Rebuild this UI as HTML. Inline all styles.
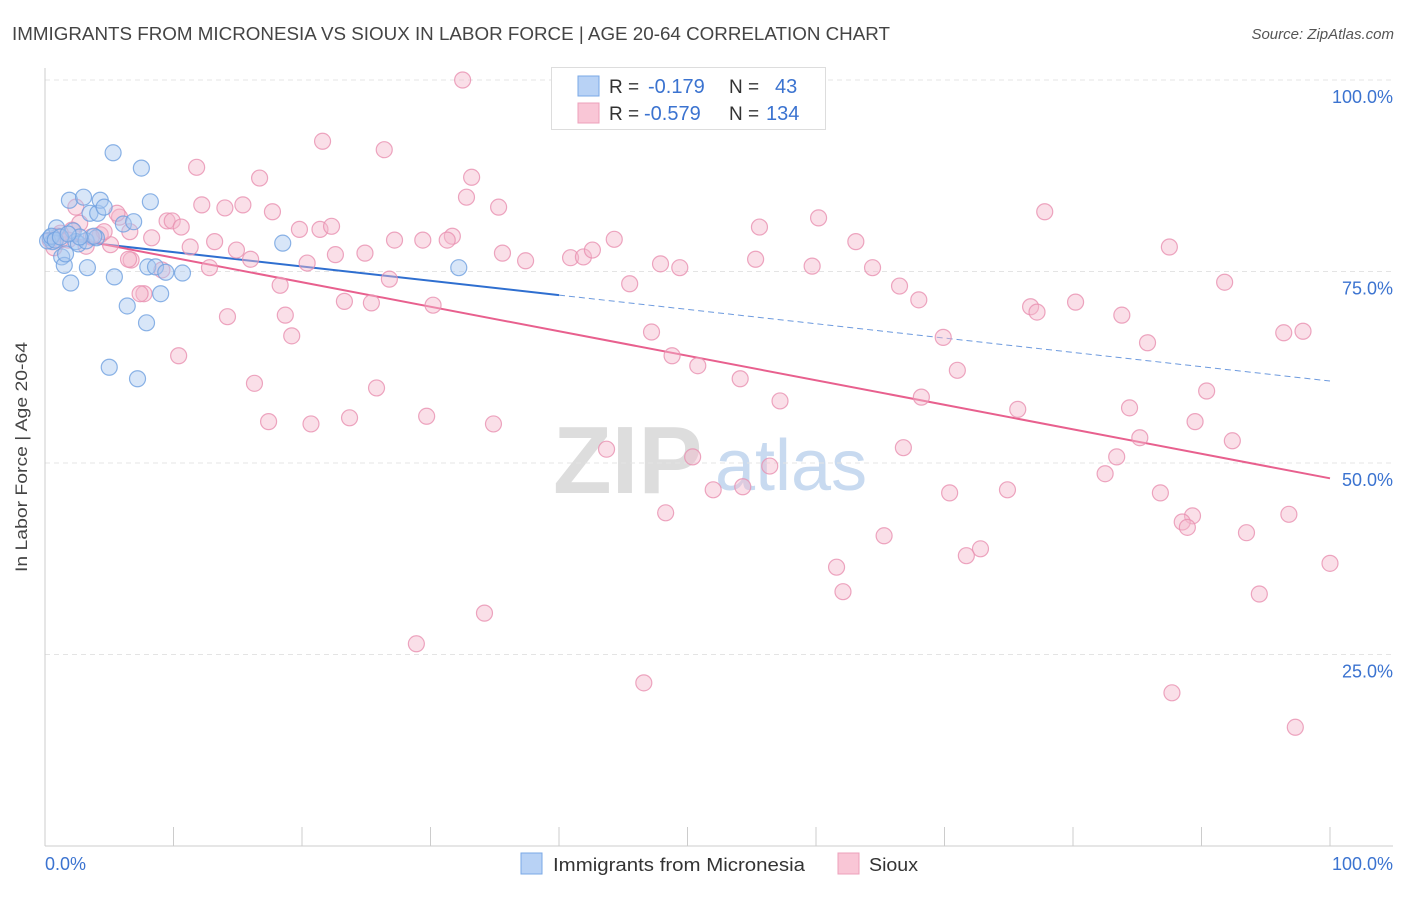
<!DOCTYPE html>
<html><head><meta charset="utf-8"><style>
body{margin:0;background:#fff;font-family:"Liberation Sans",sans-serif}
svg text{font-family:"Liberation Sans",sans-serif}
</style></head><body>
<svg id="chart" width="1406" height="892" viewBox="0 0 1406 892" xmlns="http://www.w3.org/2000/svg">
<text x="12" y="40" font-size="18" fill="#444" textLength="878" lengthAdjust="spacingAndGlyphs">IMMIGRANTS FROM MICRONESIA VS SIOUX IN LABOR FORCE | AGE 20-64 CORRELATION CHART</text>
<text x="1394" y="39" font-size="15" fill="#555" font-style="italic" text-anchor="end">Source: ZipAtlas.com</text>
<g><text x="553" y="493" font-size="96" font-family="Liberation Serif" fill="#ddd" font-weight="bold">ZIP</text><text x="715" y="490" font-size="72" fill="#c8daf0">atlas</text></g>
<g id="grid"></g>
<g id="axes"></g>
<g id="lines"></g>
<g id="pts"></g>
<text x="27" y="457" font-size="17" fill="#444" text-anchor="middle" textLength="230" lengthAdjust="spacingAndGlyphs" transform="rotate(-90 27 457)">In Labor Force | Age 20-64</text>
<g>
<rect x="551.5" y="67.5" width="274" height="62" fill="#fff" stroke="#ddd"/>
<rect x="578" y="76" width="21" height="20" fill="#b8d2f5" stroke="#7aa8e6"/>
<rect x="578" y="103" width="21" height="20" fill="#f9c6d6" stroke="#eda0bb"/>
<text x="609" y="93" font-size="19" fill="#333">R = </text><text x="648" y="93" font-size="20" fill="#3b73d0">-0.179</text>
<text x="729" y="93" font-size="19" fill="#333">N = </text><text x="775" y="93" font-size="20" fill="#3b73d0">43</text>
<text x="609" y="120" font-size="19" fill="#333">R = </text><text x="644" y="120" font-size="20" fill="#3b73d0">-0.579</text>
<text x="729" y="120" font-size="19" fill="#333">N = </text><text x="766" y="120" font-size="20" fill="#3b73d0">134</text>
</g>
<g>
<rect x="521" y="853" width="21" height="21" fill="#b8d2f5" stroke="#7aa8e6"/>
<text x="553" y="871" font-size="18" fill="#333" textLength="252" lengthAdjust="spacingAndGlyphs">Immigrants from Micronesia</text>
<rect x="838" y="853" width="21" height="21" fill="#f9c6d6" stroke="#eda0bb"/>
<text x="869" y="871" font-size="18" fill="#333" textLength="49" lengthAdjust="spacingAndGlyphs">Sioux</text>
</g>
</svg>
<script>
const yTicks=[100,75,50,25];
const yTickLabels=["100.0%","75.0%","50.0%","25.0%"];
const xTickCount=10;
const blueX=[0.4,0.6,0.9,1.3,1.5,1.9,2.0,2.2,2.4,2.6,3.0,3.2,3.3,3.5,4.0,4.1,4.3,4.6,5.3,5.4,5.0,6.1,6.4,6.9,7.2,7.5,7.9,8.2,8.0,8.6,9.0,9.4,10.7,18.5,32.2,0.2,0.5,1.6,3.8,0.8,2.7,1.2,1.8];
const blueY=[79.4,78.9,80.7,76.9,75.8,84.3,73.5,80.3,78.9,78.6,84.7,79.0,75.5,82.6,79.4,82.6,84.3,83.4,90.5,74.3,62.5,81.2,70.5,81.5,61.0,88.5,68.3,84.1,75.6,75.6,72.1,74.9,74.8,78.7,75.5,79.0,79.6,77.3,79.6,79.1,79.5,79.5,79.9];
const pinkX=[32.5,21.6,11.8,26.4,16.7,33.2,35.3,32.8,12.2,14.0,15.4,17.7,9.5,9.9,10.6,5.8,8.3,11.3,13.2,14.9,16.0,6.7,9.1,12.8,20.4,21.4,22.3,19.8,22.6,24.9,27.2,29.4,31.7,31.3,26.8,18.3,18.7,19.2,23.3,25.4,30.2,35.6,37.4,40.9,41.9,42.6,44.3,45.5,47.9,49.4,47.2,48.8,50.8,54.1,57.2,55.3,55.6,59.7,60.2,63.1,64.4,66.5,68.0,69.9,71.0,68.2,75.7,76.7,77.2,80.2,83.8,85.8,87.5,77.8,91.8,90.4,89.5,84.4,85.2,83.4,82.5,92.4,96.4,97.9,86.8,89.3,88.5,88.9,93.5,96.8,100.0,94.5,87.7,97.3,72.8,71.7,74.9,70.4,66.8,65.3,61.6,62.1,56.4,54.3,52.0,50.4,48.3,43.7,46.6,34.9,29.7,34.2,28.9,23.7,20.7,17.4,25.8,16.3,14.2,10.4,7.7,7.4,6.5,5.1,4.3,4.6,3.2,2.4,2.7,2.1,1.2,1.0,0.4,3.6,5.6,6.6,1.2,1.8,0.7];
const pinkY=[100.0,92.0,88.6,90.9,87.2,87.3,83.4,84.7,83.7,83.3,83.7,82.8,81.6,81.6,80.8,82.1,79.4,78.2,78.9,77.8,76.6,76.5,75.2,75.5,76.1,80.5,80.9,80.5,77.2,77.4,79.1,79.1,79.6,79.1,74.0,73.2,69.3,66.6,71.1,70.9,70.6,77.4,76.4,76.8,76.9,77.8,79.2,73.4,76.0,75.5,67.1,64.0,62.7,61.0,58.1,76.6,80.8,75.7,82.0,78.9,75.5,73.1,71.3,66.4,62.1,58.6,57.0,70.4,69.7,71.0,69.3,65.7,78.2,82.8,73.6,59.4,55.4,57.2,53.3,50.8,48.6,52.9,67.0,67.2,46.1,43.1,42.3,41.6,40.9,43.3,36.9,32.9,20.0,15.5,38.8,37.9,46.5,46.1,52.0,40.5,36.4,33.2,49.6,46.9,46.5,50.8,43.5,51.8,21.3,55.1,56.1,30.4,26.4,55.9,55.1,55.4,59.8,60.4,69.1,64.0,72.1,72.1,76.6,78.5,79.8,80.2,78.3,83.4,81.3,80.4,80.0,79.6,79.1,79.5,82.6,80.2,79.1,79.1,78.1];
const blueTrend=[79.4,60.7];
const pinkTrend=[80.0,48.0];
const blueSolidEnd=40;

const NS="http://www.w3.org/2000/svg";
const sx=v=>45+v*12.85;
const sy=v=>846-v*7.66;
function mk(tag,attrs,parent){const e=document.createElementNS(NS,tag);for(const k in attrs)e.setAttribute(k,attrs[k]);parent.appendChild(e);return e;}
const grid=document.getElementById('grid'),axes=document.getElementById('axes'),lines=document.getElementById('lines'),pts=document.getElementById('pts');
yTicks.forEach((t,i)=>{
  const l=mk('line',{x1:45,x2:1393,y1:sy(t),y2:sy(t),stroke:'#e4e4e4','stroke-dasharray':'5,4'},grid);
  
  
  const tx=mk('text',{x:1393,y:sy(t)+23,'font-size':18,fill:'#3b73d0','text-anchor':'end'},axes);
  tx.textContent=yTickLabels[i];
  
  
});
mk('line',{x1:45,x2:45,y1:68,y2:846,stroke:'#ccc'},axes);
mk('line',{x1:45,x2:1393,y1:846,y2:846,stroke:'#ccc'},axes);
for(let i=0;i<=xTickCount;i++){
  const x=sx(i*100/xTickCount);
  const t=mk('line',{x1:x,x2:x,y1:827,y2:846,stroke:'#ccc'},axes);
  
  
}
const x0=mk('text',{x:45,y:870,'font-size':18,fill:'#3b73d0'},axes);x0.textContent='0.0%';


const x1=mk('text',{x:1393,y:870,'font-size':18,fill:'#3b73d0','text-anchor':'end'},axes);x1.textContent='100.0%';



function drawPts(X,Y,fill,stroke,name){
  X.forEach((x,i)=>{
    const c=mk('circle',{cx:sx(x),cy:sy(Y[i]),r:8,fill:fill,'fill-opacity':0.45,stroke:stroke,'stroke-width':1.2,'stroke-opacity':0.8},pts);
    
    
  });
}
drawPts(pinkX,pinkY,'#f5b8cc','#e890b0','sioux-point');
drawPts(blueX,blueY,'#a8c8f0','#6fa0e0','micronesia-point');
const bAt=v=>blueTrend[0]+(blueTrend[1]-blueTrend[0])*v/100;
const bl1=mk('line',{x1:sx(0),y1:sy(bAt(0)),x2:sx(blueSolidEnd),y2:sy(bAt(blueSolidEnd)),stroke:'#2f6fd0','stroke-width':2},lines);


const bl2=mk('line',{x1:sx(blueSolidEnd),y1:sy(bAt(blueSolidEnd)),x2:sx(100),y2:sy(bAt(100)),stroke:'#2f6fd0','stroke-width':1,'stroke-dasharray':'6,4','stroke-opacity':0.7},lines);


const pl=mk('line',{x1:sx(0),y1:sy(pinkTrend[0]),x2:sx(100),y2:sy(pinkTrend[1]),stroke:'#e8608e','stroke-width':2},lines);


</script>
</body></html>
